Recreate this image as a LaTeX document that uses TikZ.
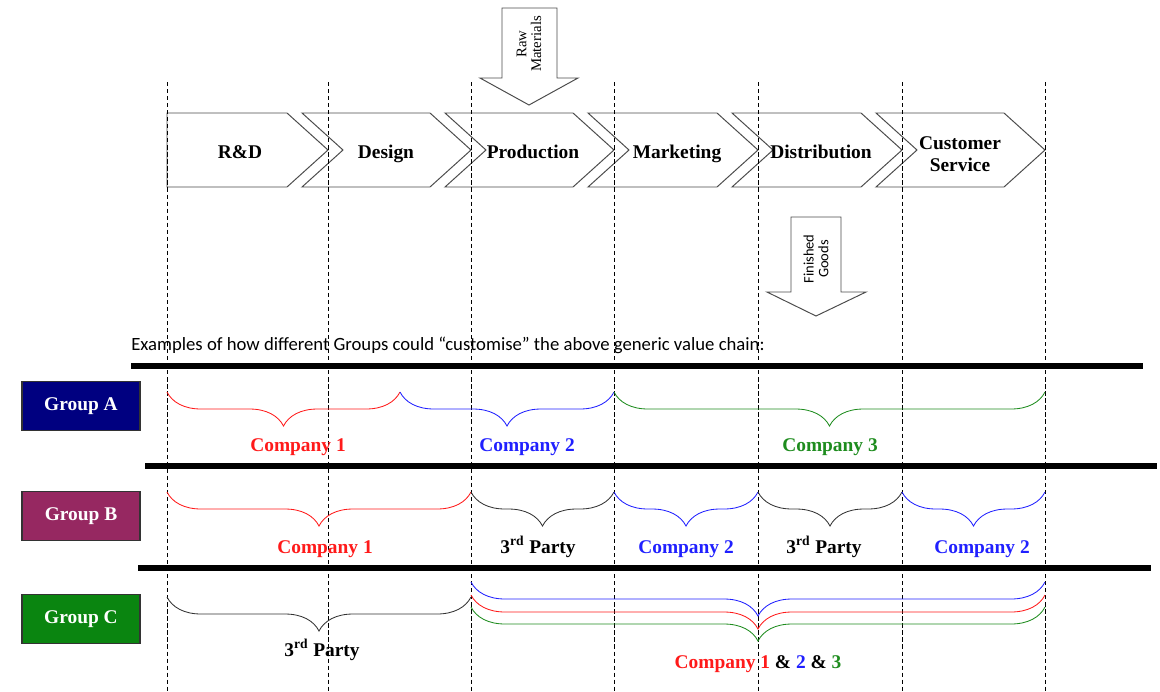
\documentclass[tikz,border=0pt]{standalone}
\usepackage{fontspec}
\setmainfont{Liberation Serif}
\newfontfamily\calibri{Carlito}
\usetikzlibrary{decorations.pathreplacing,positioning}
\definecolor{grpA}{HTML}{000080}
\definecolor{grpB}{HTML}{962861}
\definecolor{grpC}{HTML}{0A8510}
\definecolor{coRed}{HTML}{FF1A1A}
\definecolor{coBlue}{HTML}{2020FF}
\definecolor{coGreen}{HTML}{1E8C1E}
\tikzset{
    stage shape/.style={
        draw=black!70,line width=0.7pt,
        fill=white,line join=miter
    },
    stage label/.style={
        font=\bfseries\fontsize{13.8}{15.5}\selectfont,
        align=center,inner sep=0pt
    },
    flow arrow/.style={draw=black!70,line width=0.7pt,fill=white},
    guide line/.style={black,line width=0.7pt,dash pattern=on 3pt off 2pt},
    group rule/.style={black,line width=3.6pt},
    group box/.style={
        draw=black!80,line width=0.8pt,
        minimum width=2.95cm,minimum height=1.22cm,
        text=white,font=\bfseries\fontsize{13.8}{15.5}\selectfont
    },
    part brace/.style={
        decorate,decoration={brace,mirror,amplitude=0.85cm},
        line width=0.6pt
    },
    part label/.style={
        anchor=base,inner sep=0pt,
        font=\bfseries\fontsize{13.8}{15.5}\selectfont
    }
}

\begin{document}
\begin{tikzpicture}[x=0.025cm,y=-0.025cm]
\useasboundingbox (0,0) rectangle (1160,692);

% generic value chain
\foreach \i/\xa/\xb in {0/167/328,1/328/471,2/471/614,3/614/758,4/758/902,5/902/1045}{
    \ifnum\i=0
        \draw[stage shape] (\xa,113) -- ({\xb-41},113) -- (\xb,150) -- ({\xb-41},187) -- (\xa,187) -- cycle;
    \else
        \draw[stage shape] ({\xa-26},113) -- ({\xb-41},113) -- (\xb,150) -- ({\xb-41},187) -- ({\xa-26},187) -- ({\xa+15},150) -- cycle;
    \fi
}
\foreach \i/\x/\name in {0/240/R\&D,1/386/Design,2/533/Production,3/677/Marketing,4/821/Distribution}
    \node[stage label,anchor=base] (stage_\i) at (\x,158) {\name};
\node[stage label] (stage_5) at (960,154) {Customer\\Service};

% in and out of the chain
\draw[flow arrow] (502,8) -- (557,8) -- (557,78) -- (578,78) -- (529,105) -- (480,78) -- (502,78) -- cycle;
\node[rotate=90,align=center,inner sep=0pt,font=\fontsize{10.5}{10.5}\selectfont] (raw_mat) at (529,44) {Raw\\Materials};
\draw[flow arrow] (791,217) -- (841,217) -- (841,292) -- (866,292) -- (816,316) -- (767,292) -- (791,292) -- cycle;
\node[rotate=90,align=center,inner sep=0pt,font=\calibri\fontsize{10.3}{10.5}\selectfont] (fin_goods) at (816,259) {Finished\\Goods};

% column guides
\foreach \x [count=\k] in {167,328,471,614,758,902,1045}{
    \coordinate (col_top_\k) at (\x,82);
    \coordinate (col_bot_\k) at (\x,692);
    \draw[guide line] (col_top_\k) -- (col_bot_\k);
}

\node[anchor=base west,inner sep=0pt,font=\calibri\fontsize{13.3}{15}\selectfont] (examples) at (131,350)
    {Examples of how different Groups could “customise” the above generic value chain:};

\draw[group rule] (131,366) -- (1143,366);
\draw[group rule] (145,466) -- (1157,466);
\draw[group rule] (138,568) -- (1151,568);

\node[group box,fill=grpA] (group_a) at (81,406) {Group A};
\node[group box,fill=grpB] (group_b) at (81,516) {Group B};
\node[group box,fill=grpC] (group_c) at (81,619) {Group C};

% Group A
\draw[part brace,coRed] (167,392) -- (400,392);
\draw[part brace,coBlue] (400,392) -- (614,392);
\draw[part brace,coGreen] (614,392) -- (1045,392);
\node[part label,coRed] (a_co1) at (298,451) {Company 1};
\node[part label,coBlue] (a_co2) at (527,451) {Company 2};
\node[part label,coGreen] (a_co3) at (830,451) {Company 3};

% Group B
\draw[part brace,coRed] (167,492) -- (471,492);
\draw[part brace,black!80] (471,492) -- (614,492);
\draw[part brace,coBlue] (614,492) -- (758,492);
\draw[part brace,black!80] (758,492) -- (902,492);
\draw[part brace,coBlue] (902,492) -- (1045,492);
\node[part label,coRed] (b_co1) at (325,553) {Company 1};
\node[part label] (b_3rd1) at (538,553) {3\textsuperscript{rd} Party};
\node[part label,coBlue] (b_co2) at (686,553) {Company 2};
\node[part label] (b_3rd2) at (824,553) {3\textsuperscript{rd} Party};
\node[part label,coBlue] (b_co2b) at (982,553) {Company 2};

% Group C
\draw[part brace,black!80] (167,597) -- (471,597);
\draw[part brace,coBlue] (471,582) -- (1045,582);
\draw[part brace,coRed] (471,595) -- (1045,595);
\draw[part brace,coGreen] (471,607) -- (1045,607);
\node[part label] (c_3rd) at (322,656) {3\textsuperscript{rd} Party};
\node[part label] (c_all) at (758,668)
    {\textcolor{coRed}{Company 1} \& \textcolor{coBlue}{2} \& \textcolor{coGreen}{3}};
\end{tikzpicture}
\end{document}
